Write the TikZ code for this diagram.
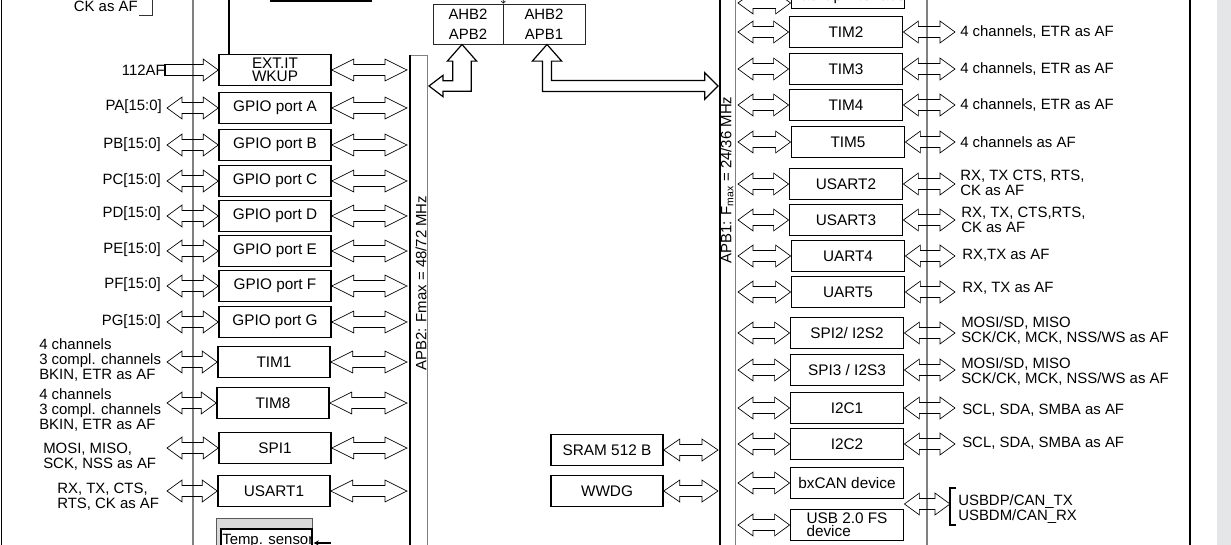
\documentclass[tikz,border=0pt]{standalone}
\usepackage{fontspec}
\setmainfont{Liberation Sans}
\usetikzlibrary{calc,arrows.meta}

\definecolor{pagegray}{RGB}{229,230,231}
\definecolor{pingray}{RGB}{128,128,128}

% half widths of the fat bus arrows
\newcommand{\arrhw}{8.2pt}
\newcommand{\arrsw}{4.1pt}

% fat double arrow, horizontal, from #2 to #3 (head length #1)
\newcommand{\dblarrow}[3][11.25pt]{%
  \draw[fatedge] let \p1=(#2), \p2=(#3) in
    (\x1,\y1) -- ({\x1+#1},{\y1+\arrhw}) -- ({\x1+#1},{\y1+\arrsw}) -- ({\x2-#1},{\y1+\arrsw})
    -- ({\x2-#1},{\y1+\arrhw}) -- (\x2,\y1) -- ({\x2-#1},{\y1-\arrhw}) -- ({\x2-#1},{\y1-\arrsw})
    -- ({\x1+#1},{\y1-\arrsw}) -- ({\x1+#1},{\y1-\arrhw}) -- cycle;
  \draw[fatshaft] let \p1=(#2), \p2=(#3) in
    ({\x1+#1},{\y1+\arrsw}) -- ({\x2-#1},{\y1+\arrsw})
    ({\x1+#1},{\y1-\arrsw}) -- ({\x2-#1},{\y1-\arrsw});
}
% fat single arrow, flat end at #2, head at #3
\newcommand{\sglarrow}[3][11.25pt]{%
  \draw[fatedge] let \p1=(#2), \p2=(#3) in
    (\x1,{\y1+\arrsw}) -- ({\x2-#1},{\y1+\arrsw}) -- ({\x2-#1},{\y1+\arrhw}) -- (\x2,\y1)
    -- ({\x2-#1},{\y1-\arrhw}) -- ({\x2-#1},{\y1-\arrsw}) -- (\x1,{\y1-\arrsw}) -- cycle;
  \draw[fatshaft] let \p1=(#2), \p2=(#3) in
    ({\x2-#1},{\y1+\arrsw}) -- (\x1,{\y1+\arrsw}) -- (\x1,{\y1-\arrsw}) -- ({\x2-#1},{\y1-\arrsw});
}

\tikzset{
  blk/.style={draw, line width=1.1pt, minimum width=84pt, minimum height=23pt, inner sep=0pt,
    align=center, font=\fontsize{11.5}{10}\selectfont},
  rblk/.style={blk, minimum width=85pt},
  pinlbl/.style={inner sep=0pt, align=left, font=\fontsize{11.2}{11.3}\selectfont},
  buslbl/.style={inner sep=0pt, rotate=90, font=\fontsize{11.2}{12}\selectfont},
  fatedge/.style={line width=0.5pt},
  fatshaft/.style={line width=1.3pt},
  pinline/.style={pingray, line width=2.2pt},
}

\begin{document}
\begin{tikzpicture}[x=0.75pt, y=-0.75pt]
    \useasboundingbox (0,0) rectangle (1231,545);
    \clip (0,0) rectangle (1231,545);

    % Frame and page
    \fill[pagegray] (1217,0) rectangle (1231,545);
    \draw[line width=1.2pt] (1.5,0) -- (1.5,545);
    \draw[line width=1.2pt] (1190,0) -- (1190,545);

    % Pin lines
    \draw[pinline] (193,0) -- (193,545);
    \draw[pinline] (927,0) -- (927,545);

    % Buses
    \draw[gray, line width=0.6pt] (410,545) -- (410,55) -- (427,55) -- (427,545);
    \draw[line width=1.4pt] (410,55) -- (410,545);
    \draw[gray, line width=0.6pt] (735,0) -- (735,545);
    \draw[line width=1.4pt] (720,0) -- (720,545);
    \node[buslbl] (apbtwo) at (421,283) {APB2: Fmax = 48/72 MHz};
    \node[buslbl] (apbone) at (727,180) {APB1: F\textsubscript{max} = 24/36 MHz};

    \coordinate (pinL) at (167,0);
    \coordinate (apbtwoL) at (407,0);
    \coordinate (apbtwoR) at (429,0);
    \coordinate (apboneL) at (718,0);
    \coordinate (apboneR) at (738,0);
    \coordinate (pinR) at (955,0);

    % Bridges
    \node[draw, gray!30!black, text=black, line width=0.7pt, minimum width=52.5pt, minimum height=30pt,
      inner sep=0pt, align=center, font=\fontsize{11.2}{15}\selectfont] (ahbL) at (468,24) {AHB2\\APB2};
    \node[draw, gray!30!black, text=black, line width=0.7pt, minimum width=61.5pt, minimum height=30pt,
      inner sep=0pt, align=center, font=\fontsize{11.2}{15}\selectfont] (ahbR) at (544,24) {AHB2\\APB1};
    \draw[line width=0.5pt, -{Straight Barb[length=1.5pt,width=3pt]}] (503,-4) -- (ahbL.north east);

    \draw[line width=0.9pt] let \p1=(ahbL.south -| 462,0), \p2=(apbtwoR |- 0,86) in
      (\x1,\y1) -- ({\x1+11pt},{\y1-12.5pt}) -- ({\x1+7pt},{\y1-12.5pt}) -- ({\x1+7pt},{\y2-4pt})
      -- ({\x2+10.5pt},{\y2-4pt}) -- ({\x2+10.5pt},{\y2-8pt}) -- (\x2,\y2) -- ({\x2+10.5pt},{\y2+8pt})
      -- ({\x2+10.5pt},{\y2+4pt}) -- ({\x1-7pt},{\y2+4pt}) -- ({\x1-7pt},{\y1-12.5pt})
      -- ({\x1-11pt},{\y1-12.5pt}) -- cycle;
    \draw[line width=0.9pt] let \p1=(ahbR.south -| 547,0), \p2=(apboneL |- 0,86) in
      (\x1,\y1) -- ({\x1+11pt},{\y1-12.5pt}) -- ({\x1+3.4pt},{\y1-12.5pt}) -- ({\x1+3.4pt},{\y2+4.1pt})
      -- ({\x2-10pt},{\y2+4.1pt}) -- ({\x2-10pt},{\y2+10pt}) -- (\x2,\y2) -- ({\x2-10pt},{\y2-10pt})
      -- ({\x2-10pt},{\y2-4.1pt}) -- ({\x1-3.4pt},{\y2-4.1pt}) -- ({\x1-3.4pt},{\y1-12.5pt})
      -- ({\x1-11pt},{\y1-12.5pt}) -- cycle;

    % Top left remains
    \node[pinlbl, anchor=east] (lck) at (138,6) {CK as AF};
    \draw[gray!40!black, line width=0.6pt] (139,15) -- (152,15) -- (152,0);
    \node[draw, line width=1.1pt, minimum width=76pt, minimum height=30pt] (topbox) at (321,-19) {};
    \coordinate (wkup) at (229,0);

    % APB2 peripherals
    \node[blk] (extit) at (275,70) {EXT.IT\\WKUP};
    \node[blk] (gpa) at (275,108) {GPIO port A};
    \node[blk] (gpb) at (275,145) {GPIO port B};
    \node[blk] (gpc) at (275,181) {GPIO port C};
    \node[blk] (gpd) at (275,216) {GPIO port D};
    \node[blk] (gpe) at (275,251) {GPIO port E};
    \node[blk] (gpf) at (275,286) {GPIO port F};
    \node[blk] (gpg) at (275,322) {GPIO port G};
    \node[blk] (tim1) at (274,362) {TIM1};
    \node[blk] (tim8) at (273,403) {TIM8};
    \node[blk] (spi1) at (275,448) {SPI1};
    \node[blk] (usart1) at (274,491) {USART1};
    \draw[line width=1.1pt] (extit.north -| wkup) -- (wkup);

    % Pin labels, left
    \node[pinlbl, anchor=east] (lext) at (165,70) {112AF};
    \node[pinlbl, anchor=east] (lpa) at (162,107) {PA[15:0]};
    \node[pinlbl, anchor=east] (lpb) at (161,145) {PB[15:0]};
    \node[pinlbl, anchor=east] (lpc) at (161,181) {PC[15:0]};
    \node[pinlbl, anchor=east] (lpd) at (161,214) {PD[15:0]};
    \node[pinlbl, anchor=east] (lpe) at (161,250) {PE[15:0]};
    \node[pinlbl, anchor=east] (lpf) at (161,285) {PF[15:0]};
    \node[pinlbl, anchor=east] (lpg) at (161,322) {PG[15:0]};
    \node[pinlbl, anchor=west] (ltim1) at (39,360) {4 channels\\3 compl. channels\\BKIN, ETR as AF};
    \node[pinlbl, anchor=west] (ltim8) at (39,410) {4 channels\\3 compl. channels\\BKIN, ETR as AF};
    \node[pinlbl, anchor=west] (lspi1) at (43,457) {MOSI, MISO,\\SCK, NSS as AF};
    \node[pinlbl, anchor=west] (lusart1) at (57,497) {RX, TX, CTS,\\RTS, CK as AF};

    % Arrows, left
    \sglarrow{lext.east}{extit.west}
    \dblarrow[16.5pt]{extit.east}{apbtwoL |- extit.east}
    \dblarrow{pinL |- gpa.west}{gpa.west}
    \dblarrow[16.5pt]{gpa.east}{apbtwoL |- gpa.east}
    \dblarrow{pinL |- gpb.west}{gpb.west}
    \dblarrow[16.5pt]{gpb.east}{apbtwoL |- gpb.east}
    \dblarrow{pinL |- gpc.west}{gpc.west}
    \dblarrow[16.5pt]{gpc.east}{apbtwoL |- gpc.east}
    \dblarrow{pinL |- gpd.west}{gpd.west}
    \dblarrow[16.5pt]{gpd.east}{apbtwoL |- gpd.east}
    \dblarrow{pinL |- gpe.west}{gpe.west}
    \dblarrow[16.5pt]{gpe.east}{apbtwoL |- gpe.east}
    \dblarrow{pinL |- gpf.west}{gpf.west}
    \dblarrow[16.5pt]{gpf.east}{apbtwoL |- gpf.east}
    \dblarrow{pinL |- gpg.west}{gpg.west}
    \dblarrow[16.5pt]{gpg.east}{apbtwoL |- gpg.east}
    \dblarrow{pinL |- tim1.west}{tim1.west}
    \dblarrow[16.5pt]{tim1.east}{apbtwoL |- tim1.east}
    \dblarrow{pinL |- tim8.west}{tim8.west}
    \dblarrow[16.5pt]{tim8.east}{apbtwoL |- tim8.east}
    \dblarrow{pinL |- spi1.west}{spi1.west}
    \dblarrow[16.5pt]{spi1.east}{apbtwoL |- spi1.east}
    \dblarrow{pinL |- usart1.west}{usart1.west}
    \dblarrow[16.5pt]{usart1.east}{apbtwoL |- usart1.east}

    % Temp sensor
    \filldraw[fill=gray!30, draw=gray!70!black, line width=0.6pt] (216,548) -- (216,518) -- (312,518) -- (312,548);
    \filldraw[fill=white, draw=black, line width=0.8pt] (221,548) -- (221,529) -- (312,529) -- (312,548);
    \node[pinlbl, anchor=west] (temp) at (222,541) {Temp. sensor};
    \coordinate (tempin) at (331,543);
    \draw[line width=0.9pt, -{Stealth[length=4pt,width=4pt]}] (tempin) -- (tempin -| temp.east);

    % SRAM, WWDG
    \node[blk] (sram) at (607,450) {SRAM 512 B};
    \node[blk] (wwdg) at (607,491) {WWDG};
    \dblarrow[12pt]{sram.east}{apboneL |- sram.east}
    \dblarrow[12pt]{wwdg.east}{apboneL |- wwdg.east}

    % APB1 peripherals
    \node[rblk, minimum height=25pt] (backup) at (848,-8) {};
    \node[pinlbl, font=\fontsize{11.5}{10}\selectfont] (lbackup) at (848,-3) {Backup interface};
    \node[rblk] (tim2) at (846,32) {TIM2};
    \node[rblk] (tim3) at (846,69) {TIM3};
    \node[rblk] (tim4) at (846,105) {TIM4};
    \node[rblk] (tim5) at (848,142) {TIM5};
    \node[rblk] (usart2) at (846,184) {USART2};
    \node[rblk] (usart3) at (846,220) {USART3};
    \node[rblk] (uart4) at (848,256) {UART4};
    \node[rblk] (uart5) at (848,292) {UART5};
    \node[rblk] (spi2) at (847,333) {SPI2/ I2S2};
    \node[rblk] (spi3) at (847,370) {SPI3 / I2S3};
    \node[rblk] (i2c1) at (847,408) {I2C1};
    \node[rblk] (i2c2) at (847,444) {I2C2};
    \node[rblk] (can) at (847,483) {bxCAN device};
    \node[rblk, align=left] (usb) at (847,525) {USB 2.0 FS\\device};

    % Pin labels, right
    \node[pinlbl, anchor=west] (ltim2) at (960,32) {4 channels, ETR as AF};
    \node[pinlbl, anchor=west] (ltim3) at (960,69) {4 channels, ETR as AF};
    \node[pinlbl, anchor=west] (ltim4) at (960,105) {4 channels, ETR as AF};
    \node[pinlbl, anchor=west] (ltim5) at (960,142) {4 channels as AF};
    \node[pinlbl, anchor=west] (lusart2) at (960,183) {RX, TX CTS, RTS,\\CK as AF};
    \node[pinlbl, anchor=west] (lusart3) at (961,220) {RX, TX, CTS,RTS,\\CK as AF};
    \node[pinlbl, anchor=west] (luart4) at (962,255) {RX,TX as AF};
    \node[pinlbl, anchor=west] (luart5) at (962,288) {RX, TX as AF};
    \node[pinlbl, anchor=west] (lspi2) at (961,331) {MOSI/SD, MISO\\SCK/CK, MCK, NSS/WS as AF};
    \node[pinlbl, anchor=west] (lspi3) at (961,372) {MOSI/SD, MISO\\SCK/CK, MCK, NSS/WS as AF};
    \node[pinlbl, anchor=west] (li2c1) at (962,410) {SCL, SDA, SMBA as AF};
    \node[pinlbl, anchor=west] (li2c2) at (962,443) {SCL, SDA, SMBA as AF};
    \node[pinlbl, anchor=west] (lusb) at (958,509) {USBDP/CAN\_TX\\USBDM/CAN\_RX};
    \draw[line width=1.1pt] (956,488) -- (950,488) -- (950,525) -- (956,525);

    % Arrows, right
    \coordinate (bkarr) at (738,3);
    \dblarrow{bkarr}{backup.west |- bkarr}
    \dblarrow{apboneR |- tim2.west}{tim2.west}
    \dblarrow{tim2.east}{pinR |- tim2.east}
    \dblarrow{apboneR |- tim3.west}{tim3.west}
    \dblarrow{tim3.east}{pinR |- tim3.east}
    \dblarrow{apboneR |- tim4.west}{tim4.west}
    \dblarrow{tim4.east}{pinR |- tim4.east}
    \dblarrow{apboneR |- tim5.west}{tim5.west}
    \dblarrow{tim5.east}{pinR |- tim5.east}
    \dblarrow{apboneR |- usart2.west}{usart2.west}
    \dblarrow{usart2.east}{pinR |- usart2.east}
    \dblarrow{apboneR |- usart3.west}{usart3.west}
    \dblarrow{usart3.east}{pinR |- usart3.east}
    \dblarrow{apboneR |- uart4.west}{uart4.west}
    \dblarrow{uart4.east}{pinR |- uart4.east}
    \dblarrow{apboneR |- uart5.west}{uart5.west}
    \dblarrow{uart5.east}{pinR |- uart5.east}
    \dblarrow{apboneR |- spi2.west}{spi2.west}
    \dblarrow{spi2.east}{pinR |- spi2.east}
    \dblarrow{apboneR |- spi3.west}{spi3.west}
    \dblarrow{spi3.east}{pinR |- spi3.east}
    \dblarrow{apboneR |- i2c1.west}{i2c1.west}
    \dblarrow{i2c1.east}{pinR |- i2c1.east}
    \dblarrow{apboneR |- i2c2.west}{i2c2.west}
    \dblarrow{i2c2.east}{pinR |- i2c2.east}
    \dblarrow{apboneR |- can.west}{can.west}
    \dblarrow{apboneR |- usb.west}{usb.west}
    \coordinate (usbmid) at ($(can.south east)!0.5!(usb.north east)$);
    \coordinate (usbbr) at (950,504);
    \dblarrow{usbmid}{usbbr}
\end{tikzpicture}
\end{document}
